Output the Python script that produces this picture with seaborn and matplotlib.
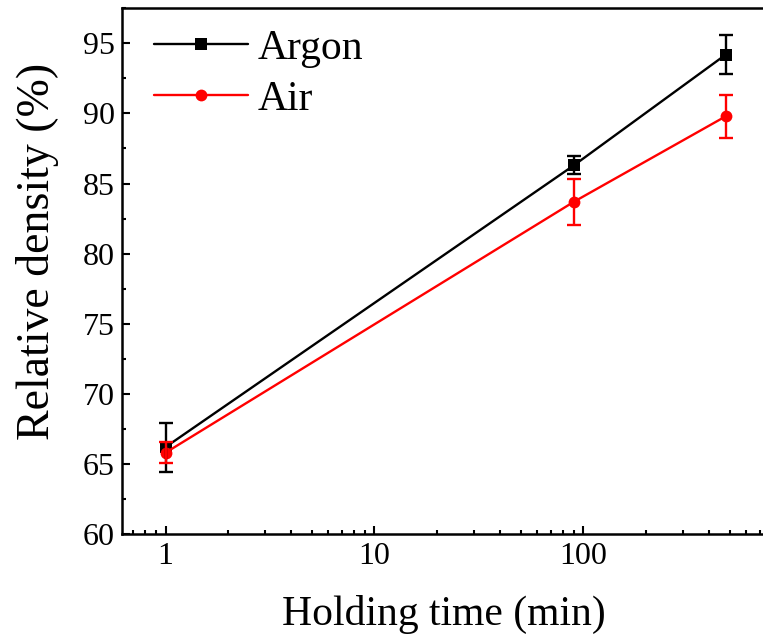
import matplotlib
matplotlib.use("Agg")
import matplotlib.pyplot as plt
import numpy as np
import pandas as pd
import seaborn as sns
from matplotlib.ticker import MultipleLocator, LogLocator, FixedLocator, NullFormatter, FixedFormatter

# Relative density vs. holding time for two sintering atmospheres
holding_time = [1, 90, 480]          # min
argon_density = [66.2, 86.3, 94.2]   # %
argon_err = [1.75, 0.65, 1.4]
air_density = [65.8, 83.7, 89.8]     # %
air_err = [0.75, 1.65, 1.55]

atmospheres = ["Argon", "Air"]
series_colors = ["#000000", "#ff0000"]
series_markers = ["s", "o"]

x_ticks = [1, 10, 100]
x_tick_labels = ["1", "10", "100"]
y_ticks = [60, 65, 70, 75, 80, 85, 90, 95]

df = pd.DataFrame({
    "Holding time": holding_time * 2,
    "Relative density": argon_density + air_density,
    "Atmosphere": [atmospheres[0]] * 3 + [atmospheres[1]] * 3,
})

sns.set_theme(style="ticks")
plt.rcParams["font.family"] = ["Liberation Serif", "DejaVu Serif"]
plt.rcParams["axes.linewidth"] = 1.8
plt.rcParams["text.color"] = "black"
plt.rcParams["axes.labelcolor"] = "black"
plt.rcParams["xtick.color"] = "black"
plt.rcParams["ytick.color"] = "black"

fig = plt.figure(figsize=(7.63, 6.43), dpi=100)
ax = fig.add_axes([0.1595, 0.1695, 0.8444, 0.8176])
ax.set_xscale("log")

palette = dict(zip(atmospheres, series_colors))
marker_map = dict(zip(atmospheres, series_markers))

sns.lineplot(data=df, x="Holding time", y="Relative density",
             hue="Atmosphere", style="Atmosphere", hue_order=atmospheres,
             style_order=atmospheres, palette=palette, markers=marker_map,
             dashes=False, markersize=8.5, markeredgewidth=0, linewidth=1.7,
             errorbar=None, ax=ax)

for dens, err, col in [(argon_density, argon_err, series_colors[0]),
                       (air_density, air_err, series_colors[1])]:
    ax.errorbar(holding_time, dens, yerr=err, fmt="none", ecolor=col,
                elinewidth=1.7, capsize=5, capthick=1.7, zorder=3)

ax.set_xlim(0.617, 747)
ax.set_ylim(60, 97.5)

ax.xaxis.set_major_locator(FixedLocator(x_ticks))
ax.xaxis.set_major_formatter(FixedFormatter(x_tick_labels))
ax.xaxis.set_minor_locator(LogLocator(base=10, subs=np.arange(2, 10)))
ax.xaxis.set_minor_formatter(NullFormatter())
ax.yaxis.set_major_locator(FixedLocator(y_ticks))
ax.yaxis.set_minor_locator(MultipleLocator(2.5))

ax.tick_params(which="both", direction="in", top=False, right=False,
               colors="black", width=1.5)
ax.tick_params(which="major", length=5.5, labelsize=23)
ax.tick_params(which="minor", length=3)
ax.tick_params(axis="x", which="major", pad=6)
ax.tick_params(axis="y", which="major", pad=5)

for sp in ax.spines.values():
    sp.set_color("black")
    sp.set_linewidth(1.8)

ax.set_xlabel("Holding time (min)", fontsize=30, labelpad=17)
ax.set_ylabel("Relative density (%)", fontsize=33)
ax.yaxis.set_label_coords(-0.098, 0.538)

handles, labels = ax.get_legend_handles_labels()
ax.legend(handles, labels, loc="upper left", bbox_to_anchor=(0.05, 0.96),
          frameon=False, fontsize=30, handlelength=2.25, handletextpad=0.25,
          labelspacing=0.3, borderpad=0, borderaxespad=0, markerscale=1.0)

fig.savefig("out.png", dpi=100)
